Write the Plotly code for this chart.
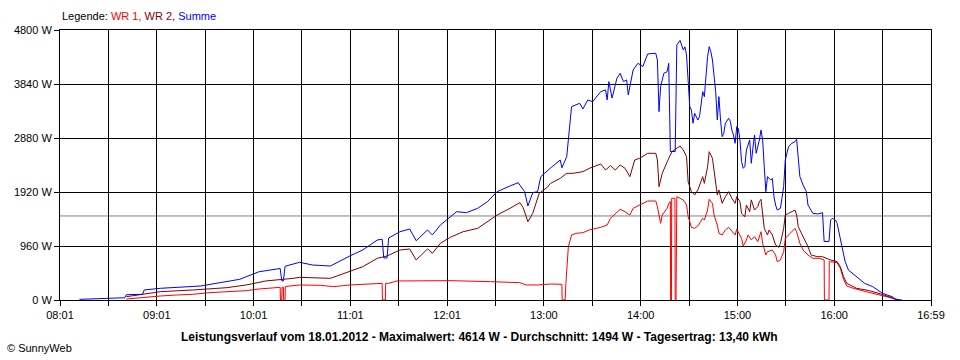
import plotly.graph_objects as go

# ---------------- data ----------------
summe_t = ["08:13","08:26","08:38","08:41","08:42","08:52","08:53","09:03","09:28","09:52",
           "10:04","10:14","10:17","10:18","10:19","10:20","10:29","10:37","10:48","11:00",
           "11:08","11:17","11:20","11:21","11:23","11:24","11:31","11:37","11:41","11:48",
           "11:51","11:56","12:01","12:06","12:12","12:19","12:25","12:31","12:39","12:44",
           "12:48","12:50","12:53","12:56","12:58","13:02","13:04","13:10","13:11","13:14",
           "13:15","13:16","13:17","13:22","13:24","13:27","13:30","13:35","13:38","13:39",
           "13:40","13:42","13:45","13:47","13:49","13:51","13:52","13:55","13:58","14:01",
           "14:04","14:09","14:10","14:11","14:12","14:14","14:16","14:17","14:18","14:21",
           "14:22","14:24","14:26","14:27","14:28","14:29","14:30","14:31","14:32","14:33",
           "14:35","14:36","14:38","14:39","14:40","14:41","14:42","14:43","14:44","14:46",
           "14:47","14:48","14:49","14:50","14:51","14:52","14:54","14:55","14:56","14:57",
           "14:58","14:59","15:00","15:01","15:02","15:03","15:04","15:05","15:07","15:08",
           "15:09","15:10","15:11","15:13","15:14","15:15","15:16","15:17","15:18","15:20",
           "15:21","15:22","15:23","15:24","15:26","15:28","15:29","15:30","15:31","15:33",
           "15:35","15:36","15:37","15:38","15:40","15:42","15:43","15:44","15:45","15:46",
           "15:49","15:51","15:52","15:53","15:56","15:57","15:58","16:00","16:01","16:04",
           "16:06","16:08","16:13","16:18","16:23","16:29","16:35","16:37","16:41"]
summe_w = [12,20,35,40,95,100,178,208,249,368,
           503,551,560,340,340,600,670,622,604,782,
           889,1067,1080,747,747,1102,1214,1262,1054,1245,
           1156,1334,1458,1570,1552,1630,1748,1926,2027,2086,
           1926,1671,1908,1926,2193,2299,2347,2489,2350,2548,
           2800,3147,3437,3497,3396,3556,3526,3704,3734,3556,
           3882,3590,3942,4030,3882,3912,3645,4089,4208,4150,
           4374,4386,4267,3348,3793,4030,4059,4208,2640,2640,
           4534,4614,4445,4500,4356,3900,3437,3378,3141,3320,
           3200,3260,3704,3615,3971,4326,4504,4415,4267,3704,
           3200,3615,3200,2904,2963,3141,3230,3180,3022,2934,
           2786,3082,3050,2845,2459,2341,2370,2667,2845,2430,
           2700,2934,2608,2845,3022,2845,2370,1926,2193,2134,
           2160,1837,1689,1600,1630,2015,2489,2608,2726,2786,
           2815,2857,2489,2193,2045,1926,1689,1630,1570,1541,
           1529,1552,1552,1040,1040,1422,1452,1422,1363,948,
           681,533,414,296,237,119,59,12,0]

wr2_t = ["08:42","08:52","09:03","09:23","09:44","09:56","10:08","10:25","10:29","10:48",
         "11:00","11:08","11:17","11:23","11:31","11:37","11:41","11:48","11:51","11:56",
         "12:02","12:10","12:19","12:27","12:31","12:39","12:45","12:47","12:50","12:53",
         "12:57","13:02","13:04","13:10","13:14","13:18","13:24","13:28","13:35","13:38",
         "13:41","13:44","13:47","13:50","13:53","13:56","13:59","14:04","14:09","14:10",
         "14:11","14:13","14:15","14:17","14:19","14:22","14:24","14:26","14:28","14:29",
         "14:31","14:33","14:35","14:38","14:39","14:41","14:42","14:44","14:46","14:47",
         "14:48","14:50","14:52","14:54","14:56","14:58","14:59","15:01","15:02","15:04",
         "15:05","15:07","15:08","15:10","15:12","15:13","15:14","15:15","15:16","15:18",
         "15:19","15:21","15:23","15:25","15:26","15:28","15:29","15:31","15:33","15:35",
         "15:36","15:37","15:39","15:41","15:43","15:45","15:49","15:52","15:54","15:57",
         "16:01","16:03","16:05","16:07","16:13","16:21","16:28","16:33","16:37","16:39"]
wr2_w = [59,107,148,178,219,267,338,385,403,385,
         503,592,741,782,889,907,711,907,830,1008,
         1114,1214,1274,1422,1511,1630,1730,1650,1392,1541,
         1896,2003,2074,2163,2252,2252,2282,2341,2418,2311,
         2390,2311,2400,2341,2193,2489,2519,2608,2608,2489,
         2015,2252,2400,2519,2637,2697,2738,2667,2548,2100,
         1926,1867,1956,2193,2074,2370,2637,2519,2015,1867,
         1956,1719,1837,1926,1808,1719,1837,1748,1541,1481,
         1689,1570,1780,1600,1659,1748,1790,1481,1274,1156,
         1245,1156,978,936,1008,1274,1511,1541,1570,1600,
         1511,1304,1185,1067,948,800,770,770,741,711,
         681,592,414,296,208,166,107,59,12,0]

wr1_t = ["08:42","08:52","09:03","09:13","09:23","09:33","09:56","10:04","10:17","10:17:10",
         "10:18","10:18:10","10:19","10:19:10","10:20","10:20:10","10:25","10:29","10:42","10:50",
         "11:00","11:20","11:20:10","11:22","11:22:10","11:24","11:29","11:43","12:02","12:27",
         "12:45","12:49","12:56","13:04","13:11","13:11:10","13:13","13:13:30","13:15","13:17",
         "13:20","13:24","13:28","13:35","13:39","13:41","13:44","13:47","13:50","13:53",
         "13:55","13:59","14:04","14:09","14:10","14:12","14:13","14:16","14:17","14:18",
         "14:18:10","14:18:40","14:18:50","14:20:50","14:21","14:21:30","14:21:40","14:22","14:24","14:26",
         "14:28","14:29","14:30","14:31","14:33","14:35","14:38","14:39","14:41","14:42",
         "14:44","14:45","14:47","14:48","14:50","14:52","14:54","14:56","14:58","14:59",
         "15:02","15:03","15:05","15:06","15:08","15:10","15:12","15:14","15:15","15:17",
         "15:18","15:21","15:23","15:24","15:26","15:28","15:29","15:32","15:35","15:36",
         "15:38","15:40","15:43","15:46","15:50","15:53","15:53:10","15:56","15:56:10","15:57",
         "16:01","16:03","16:05","16:07","16:11","16:19","16:28","16:34","16:37","16:39"]
wr1_w = [18,47,71,89,101,130,166,196,225,0,
         0,225,225,0,0,240,249,267,261,237,
         267,296,0,0,296,296,338,344,344,326,
         308,267,267,284,279,0,0,296,948,1156,
         1185,1197,1245,1292,1333,1452,1529,1612,1570,1511,
         1630,1689,1760,1760,1659,1363,1511,1630,1719,1750,
         0,0,1808,1808,0,0,1808,1837,1808,1778,
         1689,1481,1392,1292,1274,1316,1452,1422,1600,1790,
         1719,1511,1333,1185,1156,1245,1292,1214,1156,1256,
         1096,960,1067,1156,1067,1126,1037,1214,1008,800,
         859,889,800,681,711,859,1096,1185,1274,1214,
         1008,889,800,741,741,711,0,0,681,681,
         663,563,367,249,208,148,89,41,12,0]

durchschnitt_w = 1494
y_ticks = [0, 960, 1920, 2880, 3840, 4800]
x_tick_labels = ["08:01", "09:01", "10:01", "11:01", "12:01", "13:00", "14:00", "15:00", "16:00", "16:59"]
x_start, x_end = "08:01", "16:59"

series = [("WR 1", wr1_t, wr1_w, "#FF0000"),
          ("WR 2", wr2_t, wr2_w, "#800000"),
          ("Summe", summe_t, summe_w, "#0000FF")]


def to_min(s):
    p = [int(v) for v in s.split(":")]
    return p[0] * 60 + p[1] + (p[2] / 60 if len(p) > 2 else 0)


x0, x1 = to_min(x_start), to_min(x_end)
n_div = 2 * (len(x_tick_labels) - 1)
tickvals = [x0 + i * (x1 - x0) / n_div for i in range(n_div + 1)]
ticktext = [x_tick_labels[i // 2] if i % 2 == 0 else "" for i in range(n_div + 1)]

FONT = "Liberation Sans, Arial, sans-serif"

fig = go.Figure()
for name, ts, ws, col in series:
    fig.add_trace(go.Scatter(x=[to_min(t) for t in ts], y=ws, mode="lines", name=name,
                             line=dict(color=col, width=1), showlegend=False))

fig.add_shape(type="line", xref="x", yref="y", x0=x0, x1=x1,
              y0=durchschnitt_w, y1=durchschnitt_w,
              line=dict(color="#808080", width=1), layer="below")

fig.update_layout(
    width=960, height=360,
    margin=dict(l=60, r=29, t=30, b=60),
    paper_bgcolor="white", plot_bgcolor="white",
    font=dict(family=FONT, size=11, color="black"),
    xaxis=dict(range=[x0, x1], tickvals=tickvals, ticktext=ticktext,
               showgrid=True, gridcolor="black", gridwidth=1,
               showline=True, linecolor="black", linewidth=1, mirror=True,
               ticks="outside", ticklen=5, tickcolor="black", zeroline=False,
               tickfont=dict(size=11)),
    yaxis=dict(range=[0, 4800], tickvals=y_ticks, ticktext=[f"{v} W" for v in y_ticks],
               showgrid=True, gridcolor="black", gridwidth=1,
               showline=True, linecolor="black", linewidth=1, mirror=True,
               ticks="outside", ticklen=5, tickcolor="black", zeroline=False,
               tickfont=dict(size=11)),
    annotations=[
        dict(xref="paper", yref="paper", x=0.0, y=1.0, yshift=14, xanchor="left", yanchor="middle",
             showarrow=False, font=dict(size=11),
             text="Legende: <span style='color:#FF0000'>WR 1,</span> "
                  "<span style='color:#800000'>WR 2,</span> "
                  "<span style='color:#0000FF'>Summe</span>"),
        dict(xref="paper", yref="paper", x=0.482, y=0, yshift=-37, xanchor="center", yanchor="middle",
             showarrow=False, font=dict(size=12),
             text="<b>Leistungsverlauf vom 18.01.2012 - Maximalwert: 4614 W - Durchschnitt: "
                  "1494 W - Tagesertrag: 13,40 kWh</b>"),
        dict(xref="paper", yref="paper", x=-0.063, y=0, yshift=-48, xanchor="left", yanchor="middle",
             showarrow=False, font=dict(size=11), text="© SunnyWeb"),
    ],
)

fig.write_html("out.html", config={"displayModeBar": False},
               post_script="document.body.style.margin='0';document.body.style.padding='0';")
